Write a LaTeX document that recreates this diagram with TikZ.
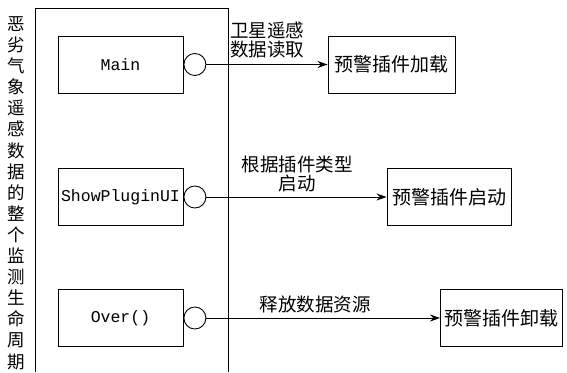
\documentclass[tikz,border=0pt]{standalone}
\usepackage{fontspec}
\setmainfont{Noto Sans CJK SC}
\newfontfamily\monof{Liberation Mono}
\usetikzlibrary{arrows.meta}
\begin{document}
\begin{tikzpicture}[x=1pt,y=-1pt, line width=0.9pt,
 box/.style={draw, minimum width=125pt, minimum height=57pt, inner sep=0pt, font=\monof\fontsize{16.5}{18}\selectfont},
 rbox/.style={draw, inner xsep=4pt, inner ysep=0pt, minimum height=57pt, font=\fontsize{19}{20}\selectfont},
 port/.style={draw, circle, minimum size=22pt, inner sep=0pt},
 lbl/.style={font=\fontsize{18.5}{19}\selectfont, inner sep=0pt},
 flow/.style={-{Stealth[length=10pt,width=7pt]}}]
\useasboundingbox (0,0) rectangle (567,372);
\draw (35,372) |- (228,8) -- (228,372);
\node[font=\fontsize{17.5}{21.1}\selectfont, align=center, inner sep=0pt] (title) at (16,193)
 {恶\\劣\\气\\象\\遥\\感\\数\\据\\的\\整\\个\\监\\测\\生\\命\\周\\期};
\node[box] (main) at (120.5,64.5) {Main};
\node[box] (show) at (120.5,197) {ShowPluginUI};
\node[box] (over) at (120.5,318) {Over()};
\node[port, anchor=west] (p1) at (main.east) {};
\node[port, anchor=west] (p2) at (show.east) {};
\node[port, anchor=west] (p3) at (over.east) {};
\node[rbox, minimum width=127pt] (r1) at (391.5,64.5) {预警插件加载};
\node[rbox, minimum width=124pt] (r2) at (449,197) {预警插件启动};
\node[rbox, minimum width=121pt] (r3) at (501.5,318) {预警插件卸载};
\draw[flow] (p1.east) -- (r1.west);
\draw[flow] (p2.east) -- (r2.west);
\draw[flow] (p3.east) -- (r3.west);
\node[lbl, align=left, anchor=west] (l1) at (230,39.5) {卫星遥感\\数据读取};
\node[lbl, align=center] (l2) at (297,174) {根据插件类型\\启动};
\node[lbl] (l3) at (315,304) {释放数据资源};
\end{tikzpicture}
\end{document}
